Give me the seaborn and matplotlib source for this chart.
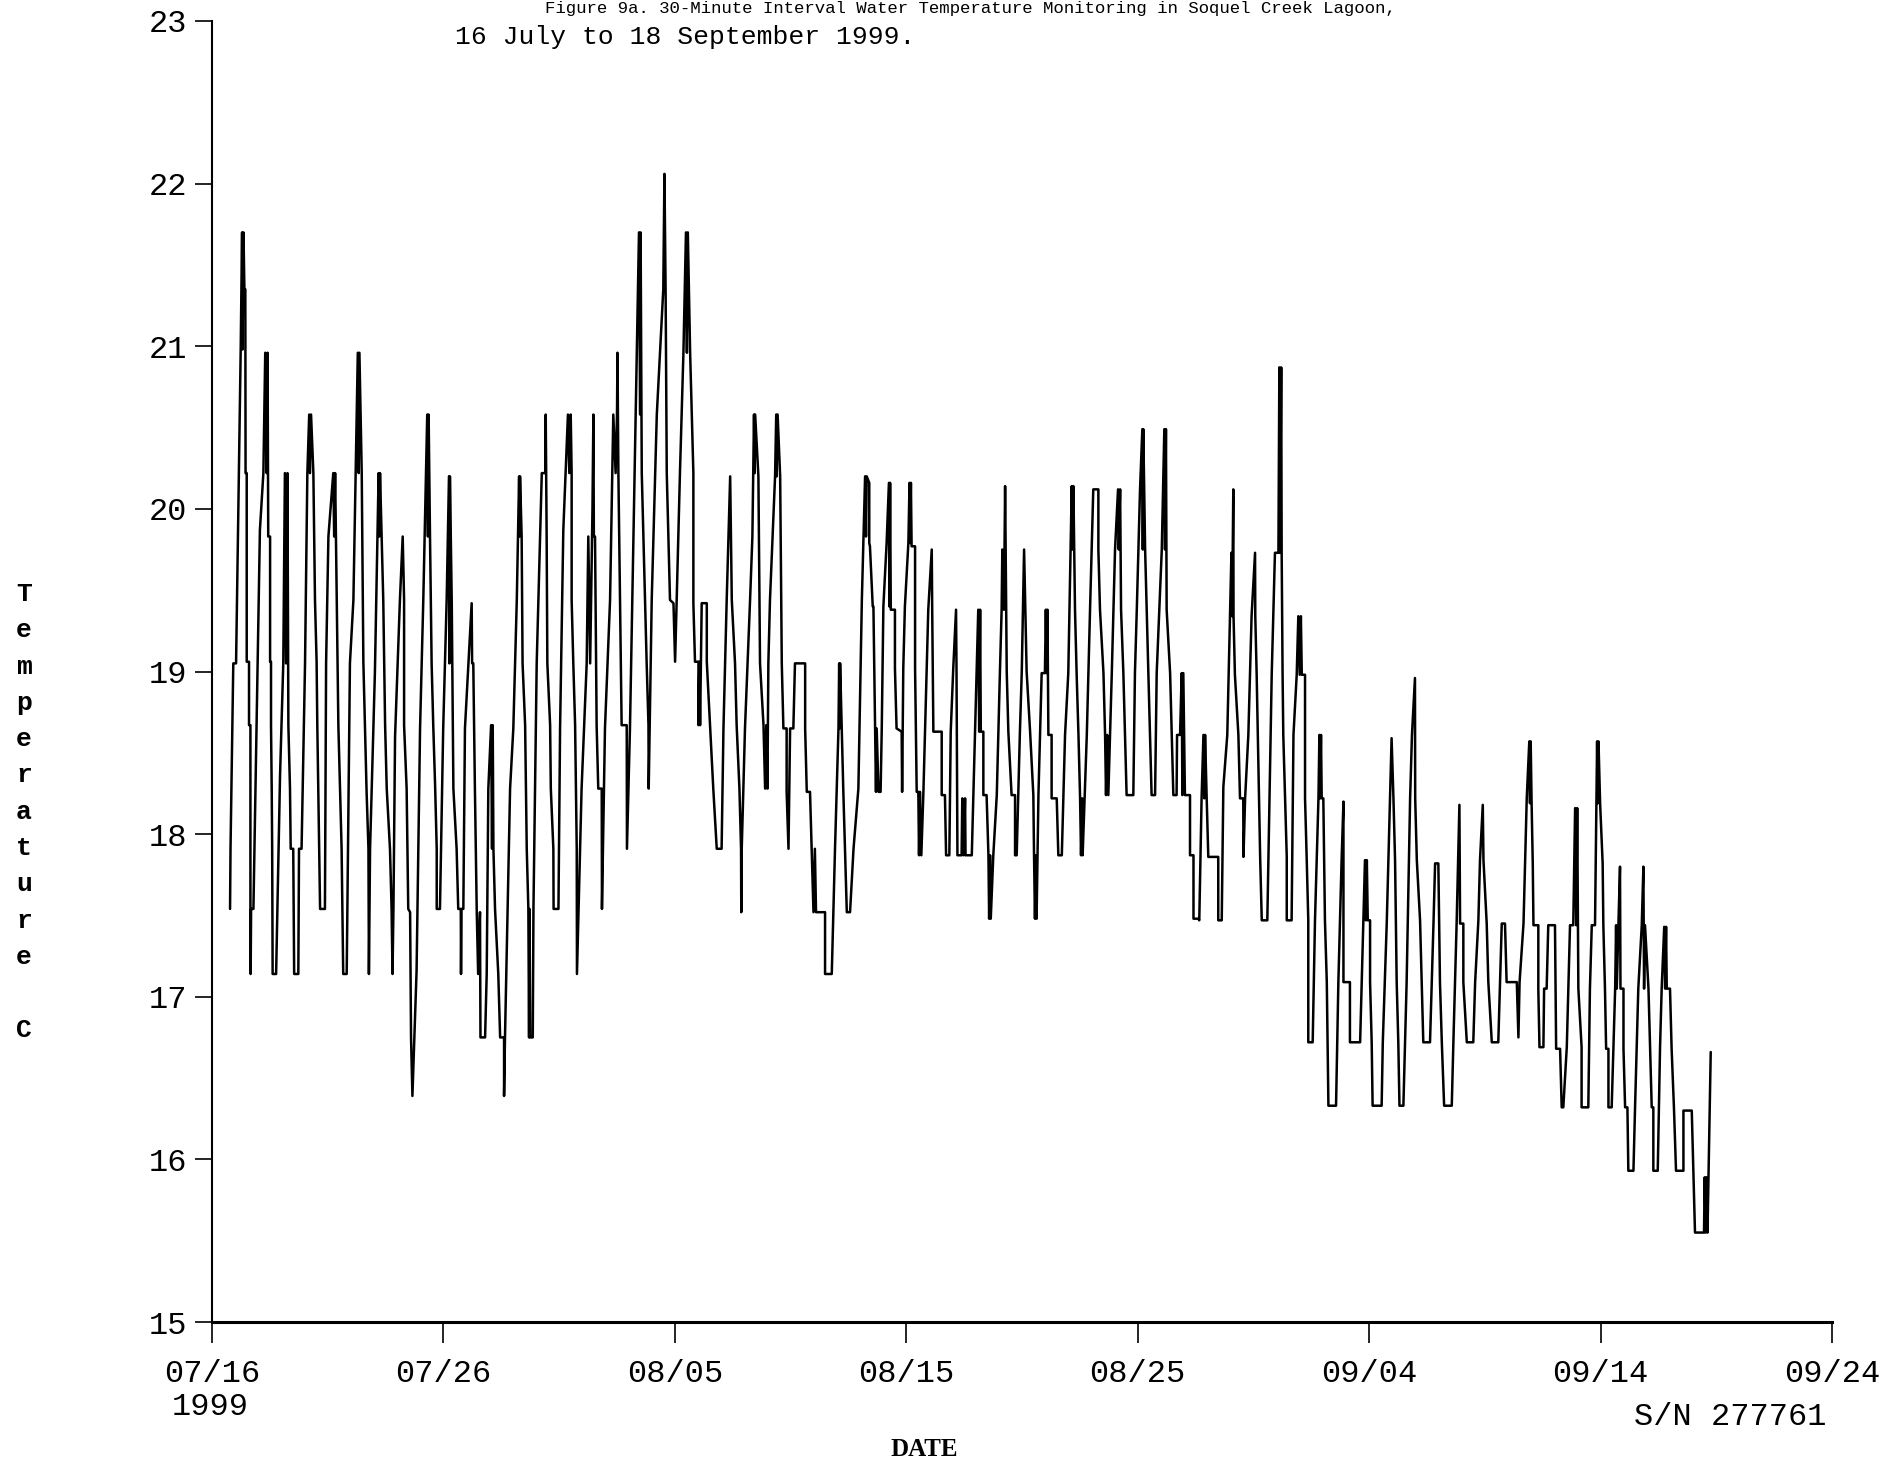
import pandas as pd
import matplotlib
matplotlib.use('Agg')
import matplotlib.pyplot as plt
import seaborn as sns

# ----------------------------------------------------------------------------------
# DATA: (days since 07/16 00:00, water temperature C)
# ----------------------------------------------------------------------------------
jul16_jul29 = [
    (0.78, 17.54), (0.80, 17.91), (0.92, 19.05), (1.04, 19.05), (1.24, 20.98), (1.30, 21.70), (1.32, 20.98),
    (1.36, 21.70), (1.40, 21.35), (1.44, 21.35), (1.45, 20.22), (1.50, 20.22), (1.50, 19.06), (1.60, 19.06),
    (1.60, 18.67), (1.66, 18.67), (1.66, 17.54), (1.67, 17.14), (1.69, 17.54), (1.79, 17.54),
    (2.07, 19.87), (2.22, 20.22), (2.30, 20.96), (2.36, 20.22), (2.40, 20.96), (2.43, 19.83), (2.51, 19.83),
    (2.51, 19.06), (2.55, 19.06), (2.55, 18.67), (2.58, 18.28), (2.60, 17.91), (2.62, 17.14), (2.77, 17.14),
    (2.94, 18.36), (3.08, 19.05), (3.15, 20.22), (3.20, 19.05), (3.26, 20.22), (3.30, 18.67), (3.37, 18.28),
    (3.40, 17.91), (3.51, 17.91), (3.55, 17.14), (3.73, 17.14),
    (3.76, 17.91), (3.87, 17.91), (4.02, 19.05), (4.12, 20.22), (4.20, 20.58), (4.23, 20.22), (4.28, 20.58),
    (4.38, 20.22), (4.45, 19.44), (4.52, 19.06), (4.55, 18.67), (4.59, 18.28), (4.67, 17.54), (4.88, 17.54),
    (4.93, 19.05), (5.03, 19.83), (5.24, 20.22), (5.28, 19.83), (5.32, 20.22), (5.39, 19.44), (5.46, 18.67),
    (5.53, 18.28), (5.60, 17.91), (5.67, 17.14), (5.82, 17.14),
    (5.96, 19.05), (6.11, 19.44), (6.30, 20.96), (6.34, 20.22), (6.37, 20.96), (6.47, 20.22), (6.54, 19.06),
    (6.61, 18.67), (6.68, 18.26), (6.76, 17.91), (6.78, 17.14), (6.83, 17.91),
    (7.04, 19.00), (7.20, 20.22), (7.23, 19.83), (7.26, 20.22), (7.33, 19.83), (7.40, 19.44), (7.48, 18.67),
    (7.55, 18.28), (7.69, 17.91), (7.76, 17.54), (7.80, 17.14), (7.84, 17.54),
    (7.91, 18.60), (8.12, 19.44), (8.24, 19.83), (8.30, 19.44), (8.30, 18.67), (8.41, 18.28), (8.48, 17.54),
    (8.56, 17.52), (8.60, 16.75), (8.66, 16.39),
    (8.84, 17.16), (8.99, 18.65), (9.13, 19.44), (9.30, 20.58), (9.33, 19.83), (9.36, 20.58), (9.42, 19.83),
    (9.49, 19.05), (9.56, 18.67), (9.64, 18.30), (9.71, 17.91), (9.71, 17.54), (9.85, 17.54),
    (9.99, 18.65), (10.14, 19.44), (10.24, 20.20), (10.26, 19.05), (10.28, 20.20), (10.36, 19.42),
    (10.43, 18.28), (10.57, 17.91), (10.64, 17.54), (10.75, 17.54), (10.76, 17.14), (10.78, 17.54), (10.86, 17.54),
    (10.93, 18.65), (11.08, 19.05), (11.22, 19.42), (11.24, 19.05), (11.29, 19.05), (11.36, 18.28),
    (11.44, 17.52), (11.50, 17.14), (11.58, 17.52), (11.60, 16.75), (11.80, 16.75),
    (11.87, 17.14), (11.94, 18.28), (12.06, 18.67), (12.10, 17.91), (12.13, 18.67), (12.16, 17.91),
    (12.23, 17.54), (12.37, 17.14), (12.45, 16.75), (12.62, 16.75), (12.62, 16.39), (12.66, 16.75),
    (12.88, 18.28), (13.02, 18.65), (13.17, 19.44), (13.27, 20.20), (13.29, 19.83), (13.31, 20.20),
    (13.38, 19.83), (13.42, 19.05), (13.53, 18.67), (13.60, 17.91), (13.67, 17.54), (13.70, 16.75),
    (13.72, 17.54), (13.75, 16.75), (13.86, 16.75),
]

jul29_aug13 = [
    (13.89, 17.54), (14.03, 19.05), (14.25, 20.22), (14.40, 20.22), (14.42, 20.58), (14.44, 20.22),
    (14.46, 19.83), (14.49, 19.05), (14.61, 18.67), (14.64, 18.28), (14.75, 17.91), (14.76, 17.54), (14.97, 17.54),
    (15.04, 18.65), (15.18, 19.87), (15.38, 20.58), (15.44, 20.22), (15.50, 20.58), (15.54, 20.22),
    (15.54, 19.44), (15.61, 19.06), (15.69, 18.67), (15.76, 17.91), (15.77, 17.14),
    (15.97, 18.28), (16.19, 19.05), (16.26, 19.83), (16.34, 19.05), (16.44, 20.00), (16.48, 20.58),
    (16.50, 19.83), (16.55, 19.83), (16.62, 18.67), (16.69, 18.28), (16.84, 18.28), (16.85, 17.54),
    (16.98, 18.65), (17.20, 19.44), (17.34, 20.58), (17.44, 20.22), (17.50, 20.58), (17.52, 20.96),
    (17.56, 20.22), (17.63, 19.44), (17.66, 19.06), (17.70, 18.67), (17.92, 18.67), (17.93, 17.91),
    (18.06, 18.65), (18.21, 19.83), (18.35, 20.96), (18.45, 21.70), (18.50, 20.58), (18.52, 21.70),
    (18.57, 20.22), (18.64, 19.83), (18.71, 19.44), (18.78, 19.06), (18.86, 18.67), (18.87, 18.28),
    (19.00, 19.44), (19.22, 20.58), (19.36, 20.96), (19.50, 21.35), (19.55, 22.06), (19.60, 21.35),
    (19.65, 20.22), (19.72, 19.83), (19.79, 19.44), (19.94, 19.42), (20.01, 19.06),
    (20.22, 20.22), (20.37, 20.96), (20.48, 21.70), (20.52, 20.96), (20.56, 21.70), (20.66, 20.96),
    (20.73, 20.58), (20.80, 20.22), (20.80, 19.42), (20.87, 19.06), (21.02, 19.06), (21.02, 18.67),
    (21.06, 19.06), (21.09, 18.67), (21.16, 19.42), (21.38, 19.42), (21.38, 19.06), (21.52, 18.67),
    (21.66, 18.28), (21.81, 17.91), (22.02, 17.91),
    (22.10, 18.65), (22.24, 19.44), (22.39, 20.20), (22.46, 19.44), (22.60, 19.05), (22.67, 18.67),
    (22.79, 18.28), (22.86, 17.91), (22.87, 17.52), (22.89, 17.91),
    (23.03, 18.65), (23.25, 19.44), (23.35, 19.83), (23.42, 20.58), (23.45, 20.22), (23.47, 20.58),
    (23.61, 20.20), (23.68, 19.05), (23.83, 18.67), (23.90, 18.28), (23.95, 18.67), (24.00, 18.28),
    (24.04, 19.05), (24.11, 19.44), (24.33, 20.20), (24.38, 20.58), (24.40, 20.20), (24.44, 20.58),
    (24.55, 20.20), (24.62, 19.05), (24.69, 18.65), (24.83, 18.65), (24.83, 18.26), (24.91, 17.91),
    (24.98, 18.65), (25.12, 18.65), (25.19, 19.05), (25.63, 19.05), (25.63, 18.65), (25.70, 18.26),
    (25.84, 18.26), (25.91, 17.91), (25.99, 17.52), (26.05, 17.91), (26.10, 17.52), (26.49, 17.52),
    (26.49, 17.14), (26.78, 17.14),
    (26.85, 17.52), (26.92, 17.91), (27.07, 18.65), (27.10, 19.05), (27.12, 18.65), (27.14, 19.05),
    (27.21, 18.65), (27.28, 18.26), (27.35, 17.91), (27.43, 17.52), (27.57, 17.52),
    (27.72, 17.91), (27.93, 18.28), (28.08, 19.44), (28.22, 20.20), (28.26, 19.83), (28.29, 20.20),
]

aug13_aug28 = [
    (28.40, 20.16), (28.40, 19.79), (28.43, 19.77), (28.55, 19.40), (28.58, 19.40), (28.65, 18.65),
    (28.69, 18.26), (28.72, 18.65), (28.80, 18.26), (28.89, 18.26),
    (28.94, 18.65), (29.01, 19.40), (29.15, 19.79), (29.25, 20.16), (29.27, 19.40), (29.30, 20.16),
    (29.33, 19.38), (29.51, 19.38), (29.51, 19.02), (29.58, 18.65), (29.80, 18.63), (29.82, 18.26),
    (29.87, 19.02), (29.94, 19.40), (30.09, 19.79), (30.14, 20.16), (30.16, 19.79), (30.20, 20.16),
    (30.23, 19.77), (30.38, 19.77), (30.38, 19.02), (30.45, 18.26), (30.52, 18.26), (30.55, 17.87),
    (30.59, 18.26), (30.65, 17.87), (30.74, 18.26),
    (30.95, 19.38), (31.10, 19.75), (31.12, 19.38), (31.17, 18.63), (31.53, 18.63), (31.53, 18.24),
    (31.67, 18.24), (31.72, 17.87), (31.86, 17.87),
    (31.92, 18.63), (32.03, 19.02), (32.15, 19.38), (32.17, 19.02), (32.21, 17.87), (32.39, 17.87),
    (32.42, 18.22), (32.48, 17.87), (32.54, 18.22), (32.56, 17.87), (32.83, 17.87),
    (32.97, 18.63), (33.04, 19.00), (33.11, 19.38), (33.15, 18.63), (33.19, 19.38), (33.22, 18.63),
    (33.33, 18.63), (33.33, 18.24), (33.47, 18.24), (33.55, 17.87), (33.58, 17.48), (33.62, 17.87), (33.65, 17.48),
    (33.76, 17.87), (33.91, 18.24), (34.05, 19.02), (34.12, 19.38), (34.15, 19.75), (34.22, 19.38),
    (34.27, 20.14), (34.34, 19.00), (34.41, 18.63), (34.55, 18.24), (34.70, 18.24), (34.70, 17.87), (34.77, 17.87),
    (34.84, 18.24), (34.91, 18.63), (34.99, 19.00), (35.09, 19.75), (35.20, 19.00), (35.35, 18.63),
    (35.49, 18.24), (35.52, 17.87), (35.56, 17.48), (35.60, 17.87), (35.63, 17.48),
    (35.71, 18.24), (35.85, 18.99), (35.99, 18.99), (36.03, 19.38), (36.07, 18.99), (36.10, 19.38),
    (36.14, 18.61), (36.28, 18.61), (36.28, 18.22), (36.50, 18.22), (36.57, 17.87), (36.72, 17.87),
    (36.86, 18.61), (37.00, 18.99), (37.10, 19.75), (37.15, 20.14), (37.18, 19.75), (37.22, 20.14),
    (37.29, 19.38), (37.36, 18.99), (37.44, 18.61), (37.51, 18.22), (37.55, 17.87), (37.60, 18.22), (37.62, 17.87),
    (37.80, 18.61), (37.94, 19.38), (38.08, 20.12), (38.30, 20.12), (38.30, 19.75), (38.37, 19.38),
    (38.52, 18.99), (38.59, 18.61), (38.63, 18.24), (38.68, 18.61), (38.73, 18.24),
    (38.88, 18.99), (39.02, 19.75), (39.15, 20.12), (39.18, 19.75), (39.24, 20.12), (39.28, 19.38),
    (39.38, 18.99), (39.45, 18.61), (39.52, 18.24), (39.81, 18.24),
    (39.88, 18.99), (39.96, 19.38), (40.10, 20.12), (40.20, 20.49), (40.22, 19.75), (40.24, 20.49),
    (40.32, 19.75), (40.39, 19.38), (40.46, 18.99), (40.53, 18.61), (40.60, 18.24), (40.75, 18.24),
    (40.82, 18.99), (41.04, 19.75), (41.15, 20.49), (41.18, 19.75), (41.22, 20.49), (41.25, 19.38),
    (41.40, 18.99), (41.47, 18.61), (41.54, 18.24), (41.68, 18.24), (41.70, 18.61), (41.83, 18.61),
    (41.90, 18.99), (41.93, 18.24), (41.97, 18.99), (42.04, 18.24), (42.26, 18.24), (42.26, 17.87),
    (42.41, 17.87), (42.41, 17.48), (42.62, 17.48),
]

aug28_sep12 = [
    (42.66, 17.47), (42.76, 18.22), (42.84, 18.61), (42.88, 18.22), (42.91, 18.61), (42.98, 18.22),
    (43.05, 17.86), (43.48, 17.86), (43.48, 17.47), (43.63, 17.47),
    (43.70, 18.29), (43.87, 18.61), (43.99, 19.34), (44.05, 19.73), (44.08, 19.34), (44.13, 20.12),
    (44.14, 19.34), (44.20, 18.98), (44.35, 18.61), (44.42, 18.22), (44.56, 18.22), (44.57, 17.86),
    (44.64, 18.22), (44.78, 18.61), (44.92, 19.34), (45.07, 19.73), (45.08, 19.34), (45.14, 18.98),
    (45.29, 17.86), (45.36, 17.47), (45.60, 17.47),
    (45.65, 17.86), (45.79, 18.98), (45.93, 19.73), (46.08, 19.73), (46.12, 20.87), (46.15, 19.73),
    (46.20, 20.87), (46.22, 19.73), (46.26, 18.98), (46.29, 18.61), (46.37, 18.22), (46.44, 17.86),
    (46.44, 17.47), (46.65, 17.47),
    (46.73, 18.61), (46.87, 18.98), (46.94, 19.34), (47.00, 18.98), (47.05, 19.34), (47.09, 18.98),
    (47.23, 18.98), (47.23, 18.22), (47.30, 17.86), (47.37, 17.47), (47.37, 16.72), (47.56, 16.72),
    (47.66, 17.47), (47.81, 18.22), (47.85, 18.61), (47.88, 18.22), (47.92, 18.61), (47.95, 18.22),
    (48.02, 18.22), (48.09, 17.47), (48.17, 17.09), (48.24, 16.33), (48.57, 16.33),
    (48.67, 17.09), (48.81, 17.84), (48.89, 18.20), (48.89, 17.09), (49.17, 17.09), (49.17, 16.72), (49.61, 16.72),
    (49.68, 17.09), (49.75, 17.47), (49.82, 17.84), (49.86, 17.47), (49.90, 17.84), (49.94, 17.47),
    (50.04, 17.47), (50.04, 17.09), (50.11, 16.72), (50.15, 16.33), (50.54, 16.33),
    (50.59, 16.72), (50.76, 17.45), (50.90, 18.22), (50.97, 18.59), (51.05, 18.22), (51.12, 17.84),
    (51.19, 17.09), (51.26, 16.72), (51.31, 16.33), (51.48, 16.33),
    (51.62, 17.09), (51.77, 18.22), (51.85, 18.61), (51.98, 18.96), (51.99, 18.22), (52.06, 17.84),
    (52.20, 17.47), (52.27, 17.09), (52.34, 16.72), (52.63, 16.72),
    (52.78, 17.45), (52.85, 17.82), (52.99, 17.82), (53.06, 17.09), (53.14, 16.72), (53.24, 16.33), (53.57, 16.33),
    (53.64, 16.72), (53.78, 17.45), (53.90, 18.18), (53.93, 17.45), (54.07, 17.45), (54.07, 17.09),
    (54.22, 16.72), (54.50, 16.72),
    (54.58, 17.09), (54.72, 17.47), (54.79, 17.84), (54.91, 18.18), (54.94, 17.84), (55.08, 17.45),
    (55.15, 17.09), (55.30, 16.72), (55.58, 16.72),
    (55.73, 17.45), (55.87, 17.45), (55.94, 17.09), (56.38, 17.09), (56.45, 16.75), (56.50, 17.09),
    (56.67, 17.45), (56.81, 18.22), (56.92, 18.57),
]

sep12_sep18 = [
    (56.95, 18.19), (56.98, 18.57), (57.02, 18.19), (57.07, 17.82), (57.10, 17.44), (57.31, 17.44),
    (57.31, 17.05), (57.36, 16.69), (57.53, 16.69),
    (57.56, 17.05), (57.67, 17.05), (57.74, 17.44), (58.03, 17.44), (58.08, 16.68), (58.25, 16.68),
    (58.32, 16.32), (58.39, 16.32),
    (58.54, 16.69), (58.68, 17.44), (58.82, 17.44), (58.90, 18.16), (58.95, 17.44), (58.99, 18.16),
    (59.04, 17.05), (59.18, 16.69), (59.18, 16.32), (59.47, 16.32),
    (59.54, 17.05), (59.62, 17.44), (59.76, 17.44), (59.85, 18.57), (59.88, 18.19), (59.91, 18.57),
    (59.98, 18.19), (60.09, 17.82), (60.12, 17.44), (60.19, 17.05), (60.24, 16.68), (60.34, 16.68),
    (60.34, 16.32), (60.48, 16.32),
    (60.63, 17.05), (60.67, 17.44), (60.70, 17.05), (60.77, 17.44), (60.84, 17.80), (60.86, 17.05),
    (60.99, 17.05), (60.99, 16.68), (61.06, 16.32), (61.16, 16.32), (61.20, 15.93), (61.42, 15.93),
    (61.49, 16.32), (61.63, 17.05), (61.78, 17.44), (61.85, 17.80), (61.88, 17.05), (61.92, 17.44),
    (62.07, 17.05), (62.14, 16.69), (62.21, 16.32), (62.28, 16.32), (62.28, 15.93), (62.47, 15.93),
    (62.57, 16.69), (62.64, 17.05), (62.75, 17.43), (62.79, 17.05), (62.83, 17.43), (62.86, 17.05),
    (63.00, 17.05), (63.07, 16.68), (63.17, 16.32), (63.26, 15.93), (63.58, 15.93), (63.58, 16.30),
    (63.94, 16.30), (64.01, 15.93), (64.08, 15.55), (64.47, 15.55), (64.50, 15.89), (64.54, 15.55),
    (64.58, 15.89), (64.62, 15.55), (64.76, 16.66),
]

x_tick_labels = ['07/16', '07/26', '08/05', '08/15', '08/25', '09/04', '09/14', '09/24']
y_ticks = [15, 16, 17, 18, 19, 20, 21, 22, 23]
ylabel_letters = ['T', 'e', 'm', 'p', 'e', 'r', 'a', 't', 'u', 'r', 'e', '', 'C']

title_1 = 'Figure 9a. 30-Minute Interval Water Temperature Monitoring in Soquel Creek Lagoon,'
title_2 = '16 July to 18 September 1999.'

# ----------------------------------------------------------------------------------
# BUILD TABLE
# ----------------------------------------------------------------------------------
start = pd.Timestamp('1999-07-16')
pts = jul16_jul29 + jul29_aug13 + aug13_aug28 + aug28_sep12 + sep12_sep18
readings = pd.DataFrame(pts, columns=['day', 'temp_c'])
readings['time'] = start + pd.to_timedelta(readings['day'], unit='D')
tick_dates = pd.date_range(start, periods=len(x_tick_labels), freq='10D')

# ----------------------------------------------------------------------------------
# PLOT
# ----------------------------------------------------------------------------------
sns.set_theme(style='white')
plt.rcParams['font.family'] = ['Liberation Mono', 'DejaVu Sans Mono']

W, H = 1902, 1469
fig = plt.figure(figsize=(W / 100, H / 100), dpi=100)
fig.patch.set_facecolor('white')
ax = fig.add_axes([212 / W, 1 - 1322 / H, 1620 / W, (1322 - 21) / H])
ax.set_facecolor('white')

sns.lineplot(data=readings, x='time', y='temp_c', estimator=None, sort=False,
             color='black', linewidth=1.8, ax=ax)

ax.set_xlim(tick_dates[0], tick_dates[-1])
ax.set_ylim(y_ticks[0], y_ticks[-1])
ax.set_xticks(tick_dates)
ax.set_xticklabels(x_tick_labels)
ax.set_yticks(y_ticks)
ax.set_yticklabels([str(v) for v in y_ticks])
ax.set_xlabel('')
ax.set_ylabel('')

for s in ['top', 'right']:
    ax.spines[s].set_visible(False)
ax.spines['left'].set_linewidth(1.5)
ax.spines['bottom'].set_linewidth(2.2)
ax.spines['left'].set_color('black')
ax.spines['bottom'].set_color('black')

ax.tick_params(axis='x', bottom=True, direction='out', length=15, width=1.2,
               pad=12, labelsize=23, colors='black')
ax.tick_params(axis='y', left=True, direction='out', length=12, width=1.2,
               pad=6, labelsize=23, colors='black')
ax.grid(False)

# titles: the scan crops the first line, here it is shrunk to fit above the second
fig.text(970 / W, 1 - 1 / H, title_1, ha='center', va='top', fontsize=12.5, color='black')
fig.text(455 / W, 1 - 44 / H, title_2, ha='left', va='baseline', fontsize=19, color='black')

# stacked y label
for i, ch in enumerate(ylabel_letters):
    if ch:
        fig.text(24 / W, 1 - (594 + i * 36.3) / H, ch, ha='center', va='center',
                 fontsize=19, fontweight='bold', color='black')

fig.text(210 / W, 1 - 1407 / H, '1999', ha='center', va='center', fontsize=23, color='black')
fig.text(1826 / W, 1 - 1417 / H, 'S/N 277761', ha='right', va='center', fontsize=23, color='black')
fig.text(924 / W, 1 - 1449 / H, 'DATE', ha='center', va='center', fontsize=18,
         fontweight='bold', family='Liberation Serif', color='black')

plt.savefig('out.png', dpi=100, facecolor='white')
